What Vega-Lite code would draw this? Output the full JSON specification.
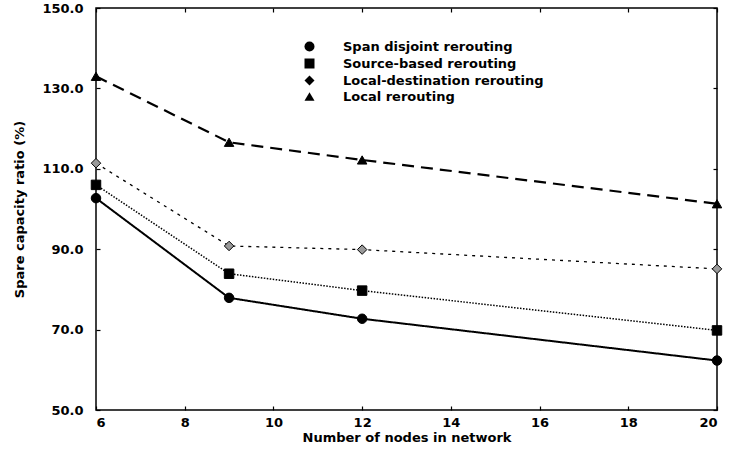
{
  "$schema": "https://vega.github.io/schema/vega-lite/v6.json",
  "autosize": "none",
  "width": 621,
  "height": 402,
  "padding": {"left": 96, "top": 8, "right": 13, "bottom": 45},
  "background": "white",
  "config": {
    "view": {"stroke": "black", "strokeWidth": 1.5},
    "axis": {
      "domain": false,
      "grid": false,
      "tickColor": "black",
      "tickSize": -4,
      "tickWidth": 1.2,
      "labelFont": "DejaVu Sans",
      "labelFontWeight": "bold",
      "labelFontSize": 13,
      "labelColor": "black",
      "titleFont": "DejaVu Sans",
      "titleFontWeight": "bold",
      "titleFontSize": 13,
      "titleColor": "black"
    }
  },
  "data": {
    "values": [
      {"series": "Span disjoint rerouting", "nodes": 6, "ratio": 102.7},
      {"series": "Span disjoint rerouting", "nodes": 9, "ratio": 77.9},
      {"series": "Span disjoint rerouting", "nodes": 12, "ratio": 72.7},
      {"series": "Span disjoint rerouting", "nodes": 20, "ratio": 62.3},
      {"series": "Source-based rerouting", "nodes": 6, "ratio": 106.0},
      {"series": "Source-based rerouting", "nodes": 9, "ratio": 83.9},
      {"series": "Source-based rerouting", "nodes": 12, "ratio": 79.7},
      {"series": "Source-based rerouting", "nodes": 20, "ratio": 69.8},
      {"series": "Local-destination rerouting", "nodes": 6, "ratio": 111.4},
      {"series": "Local-destination rerouting", "nodes": 9, "ratio": 90.8},
      {"series": "Local-destination rerouting", "nodes": 12, "ratio": 89.9},
      {"series": "Local-destination rerouting", "nodes": 20, "ratio": 85.1},
      {"series": "Local rerouting", "nodes": 6, "ratio": 133.0},
      {"series": "Local rerouting", "nodes": 9, "ratio": 116.6},
      {"series": "Local rerouting", "nodes": 12, "ratio": 112.2},
      {"series": "Local rerouting", "nodes": 20, "ratio": 101.3}
    ]
  },
  "encoding": {
    "x": {"field": "nodes", "type": "quantitative", "axis": null, "scale": {"domain": [6, 20], "nice": false, "zero": false}},
    "y": {"field": "ratio", "type": "quantitative", "axis": null, "scale": {"domain": [50, 150], "nice": false, "zero": false}}
  },
  "layer": [
    {
      "mark": {"type": "line", "color": "black"},
      "encoding": {
        "x": {"field": "nodes", "type": "quantitative", "axis": {"orient": "bottom", "values": [6, 8, 10, 12, 14, 16, 18, 20], "labelPadding": 10, "title": "Number of nodes in network", "titlePadding": 2}},
        "y": {"field": "ratio", "type": "quantitative", "axis": {"orient": "left", "values": [50, 70, 90, 110, 130, 150], "format": ".1f", "labelPadding": 17, "title": "Spare capacity ratio (%)", "titlePadding": 15}},
        "detail": {"field": "series"},
        "strokeDash": {
          "field": "series", "type": "nominal", "legend": null,
          "scale": {"type": "ordinal", "domain": ["Local rerouting", "Local-destination rerouting", "Source-based rerouting", "Span disjoint rerouting"], "range": [[12, 7], [3, 5], [1.5, 1.5], [1, 0]]}
        },
        "strokeWidth": {
          "field": "series", "type": "nominal", "legend": null,
          "scale": {"type": "ordinal", "domain": ["Local rerouting", "Local-destination rerouting", "Source-based rerouting", "Span disjoint rerouting"], "range": [2.2, 1.3, 1.5, 2]}
        }
      }
    },
    {
      "mark": {"type": "point", "filled": true, "size": 90, "stroke": "black", "strokeWidth": 1, "opacity": 1},
      "encoding": {
        "shape": {
          "field": "series", "type": "nominal",
          "scale": {"domain": ["Span disjoint rerouting", "Source-based rerouting", "Local-destination rerouting", "Local rerouting"], "range": ["circle", "square", "diamond", "triangle-up"]},
          "legend": {
            "title": null,
            "orient": "none",
            "legendX": 207,
            "legendY": 32,
            "padding": 0,
            "symbolSize": 100,
            "symbolStrokeColor": "black",
            "rowPadding": 0,
            "labelOffset": 27,
            "labelLimit": 0,
            "labelFont": "DejaVu Sans",
            "labelFontWeight": "bold",
            "labelFontSize": 13,
            "labelColor": "black"
          }
        },
        "fill": {
          "condition": {"test": "datum.series === 'Local-destination rerouting'", "value": "#999999"},
          "value": "black"
        }
      }
    },
    {
      "mark": {"type": "point", "opacity": 0},
      "encoding": {
        "x": {"field": "nodes", "type": "quantitative", "axis": {"orient": "top", "values": [6, 8, 10, 12, 14, 16, 18, 20], "labels": false, "title": null}},
        "y": {"field": "ratio", "type": "quantitative", "axis": {"orient": "right", "values": [50, 70, 90, 110, 130, 150], "labels": false, "title": null}}
      }
    }
  ],
  "resolve": {"axis": {"x": "independent", "y": "independent"}}
}
